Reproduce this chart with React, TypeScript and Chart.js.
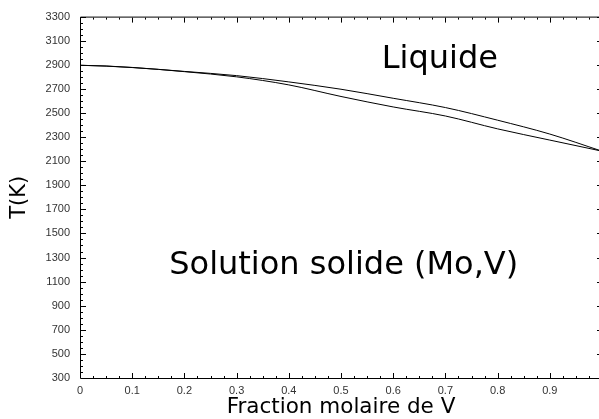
import React, { useEffect, useRef } from "react";
import { Chart, registerables } from "chart.js";

Chart.register(...registerables);

// Mole fraction of V
const FRACTION_V = [0, 0.05, 0.1, 0.15, 0.2, 0.3, 0.4, 0.5, 0.6, 0.7, 0.8, 0.9, 1.0];
// Liquidus temperature (K)
const LIQUIDUS_T = [2896, 2889, 2877, 2862, 2845, 2810, 2758, 2697, 2622, 2545, 2440, 2325, 2183];
// Solidus temperature (K)
const SOLIDUS_T = [2896, 2890, 2878, 2862, 2843, 2800, 2733, 2637, 2550, 2475, 2368, 2275, 2183];

const X_TICKS = [0, 0.1, 0.2, 0.3, 0.4, 0.5, 0.6, 0.7, 0.8, 0.9];
const X_TICK_LABELS = ["0", "0.1", "0.2", "0.3", "0.4", "0.5", "0.6", "0.7", "0.8", "0.9"];
const Y_TICKS = [300, 500, 700, 900, 1100, 1300, 1500, 1700, 1900, 2100, 2300, 2500, 2700, 2900, 3100, 3300];
const Y_TICK_LABELS = Y_TICKS.map((v) => String(v));

const X_MIN = 0;
const X_MAX = 1;
const Y_MIN = 300;
const Y_MAX = 3300;
const X_MINOR_STEP = 0.025;
const Y_MINOR_STEP = 50;

const REGION_LABELS = ["Liquide", "Solution solide (Mo,V)"];
const REGION_X = [0.578, 0.171];
const REGION_T = [2871, 1166];

const X_TITLE = "Fraction molaire de V";
const Y_TITLE = "T(K)";

const framePlugin = {
  id: "frameTicks",
  afterDraw(chart: any) {
    const { ctx, chartArea, scales } = chart;
    const xs = scales.x;
    const ys = scales.y;
    const { left, right, top, bottom } = chartArea;
    ctx.save();
    ctx.strokeStyle = "#000";
    ctx.lineWidth = 1;
    ctx.beginPath();
    ctx.moveTo(left + 0.5, bottom + 0.5);
    ctx.lineTo(left + 0.5, top + 0.5);
    ctx.lineTo(right + 0.5, top + 0.5);
    ctx.lineTo(right + 0.5, bottom + 0.5);
    ctx.lineTo(left + 0.5, bottom + 0.5);
    ctx.stroke();

    ctx.beginPath();
    const nx = Math.round((X_MAX - X_MIN) / X_MINOR_STEP);
    for (let i = 0; i <= nx; i++) {
      const v = X_MIN + i * X_MINOR_STEP;
      const major = i % 4 === 0;
      const len = major ? 5 : 2;
      const px = Math.round(xs.getPixelForValue(v)) + 0.5;
      ctx.moveTo(px, bottom);
      ctx.lineTo(px, bottom - len);
      ctx.moveTo(px, top + 1);
      ctx.lineTo(px, top + 1 + len);
    }
    const ny = Math.round((Y_MAX - Y_MIN) / Y_MINOR_STEP);
    for (let i = 0; i <= ny; i++) {
      const v = Y_MIN + i * Y_MINOR_STEP;
      const major = i % 4 === 0;
      const len = major ? 5 : 2;
      const py = Math.round(ys.getPixelForValue(v)) + 0.5;
      ctx.moveTo(left + 1, py);
      ctx.lineTo(left + 1 + len, py);
      ctx.moveTo(right, py);
      ctx.lineTo(right - len, py);
    }
    ctx.stroke();

    ctx.fillStyle = "#000";
    ctx.font = "32px 'DejaVu Sans'";
    ctx.textAlign = "left";
    ctx.textBaseline = "alphabetic";
    REGION_LABELS.forEach((t, i) => {
      ctx.fillText(t, xs.getPixelForValue(REGION_X[i]), ys.getPixelForValue(REGION_T[i]));
    });
    ctx.restore();
  },
};

export default function App() {
  const ref = useRef<HTMLCanvasElement>(null);
  useEffect(() => {
    if (!ref.current) return;
    const lineStyle = {
      borderColor: "#000",
      borderWidth: 1,
      pointRadius: 0,
      fill: false,
      showLine: true,
      cubicInterpolationMode: "monotone" as const,
    };
    const chart = new Chart(ref.current, {
      type: "scatter",
      data: {
        datasets: [
          { ...lineStyle, label: "Liquidus", data: FRACTION_V.map((x, i) => ({ x, y: LIQUIDUS_T[i] })) },
          { ...lineStyle, label: "Solidus", data: FRACTION_V.map((x, i) => ({ x, y: SOLIDUS_T[i] })) },
        ],
      },
      options: {
        responsive: false,
        animation: false,
        layout: { padding: { top: 16, right: 2, left: 0, bottom: 0 } },
        plugins: { legend: { display: false }, tooltip: { enabled: false } },
        scales: {
          x: {
            type: "linear",
            min: X_MIN,
            max: X_MAX,
            afterFit: (s: any) => {
              s.height = 41;
            },
            afterBuildTicks: (s: any) => {
              s.ticks = X_TICKS.map((v) => ({ value: v }));
            },
            ticks: {
              padding: 6,
              maxRotation: 0,
              autoSkip: false,
              color: "#333",
              font: { family: "'Liberation Sans'", size: 11 },
              callback: (_v: any, i: number) => X_TICK_LABELS[i],
            },
            grid: { display: false, drawTicks: false },
            border: { display: false },
            title: {
              display: true,
              text: X_TITLE,
              color: "#000",
              font: { family: "'DejaVu Sans'", size: 21.5, lineHeight: 1.05 },
              padding: { top: 0, bottom: 0 },
            },
          },
          y: {
            type: "linear",
            min: Y_MIN,
            max: Y_MAX,
            afterFit: (s: any) => {
              s.width = 80;
            },
            afterBuildTicks: (s: any) => {
              s.ticks = Y_TICKS.map((v) => ({ value: v }));
            },
            ticks: {
              padding: 10,
              autoSkip: false,
              color: "#333",
              font: { family: "'Liberation Sans'", size: 11 },
              callback: (_v: any, i: number) => Y_TICK_LABELS[i],
            },
            grid: { display: false, drawTicks: false },
            border: { display: false },
            title: {
              display: true,
              text: Y_TITLE,
              color: "#000",
              font: { family: "'DejaVu Sans'", size: 21, lineHeight: 1.05 },
              padding: { top: 9, bottom: 0 },
            },
          },
        },
      },
      plugins: [framePlugin],
    });
    return () => chart.destroy();
  }, []);
  return (
    <div
      style={{
        position: "fixed",
        left: 0,
        top: 0,
        width: 599,
        height: 419,
        overflow: "hidden",
        background: "#fff",
      }}
    >
      <canvas ref={ref} width={604} height={419} style={{ display: "block" }} />
    </div>
  );
}
